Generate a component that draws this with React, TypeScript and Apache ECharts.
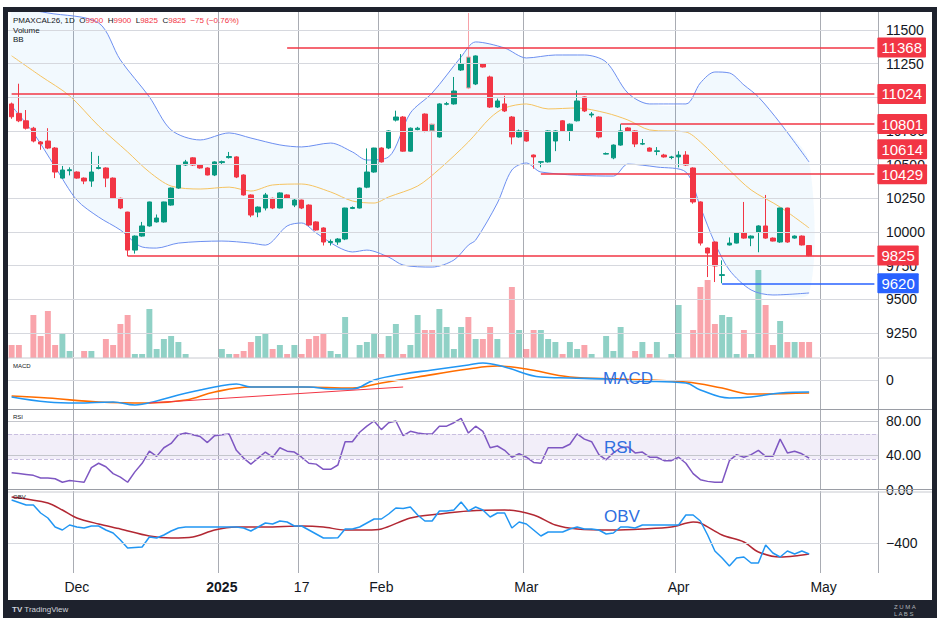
import { useEffect, useRef } from 'react';
import * as echarts from 'echarts';

const SLOTS = 120;
const DATE_LABELS: Record<number, string> = { 9: 'Dec', 29: '2025', 40: '17', 51: 'Feb', 71: 'Mar', 92: 'Apr', 112: 'May' };

// [open, close, low, high]
const CANDLES: number[][] = [
  [10950, 10855, 10840, 10960], [10880, 10825, 10815, 11100], [10825, 10770, 10760, 10905], [10770, 10675, 10665, 10780],
  [10668, 10653, 10610, 10675], [10675, 10623, 10615, 10770], [10623, 10445, 10400, 10630], [10400, 10460, 10395, 10490],
  [10455, 10462, 10420, 10480], [10445, 10400, 10395, 10450], [10400, 10378, 10355, 10405], [10378, 10445, 10335, 10594],
  [10472, 10478, 10465, 10565], [10475, 10400, 10333, 10480], [10400, 10250, 10245, 10405], [10250, 10178, 10170, 10255],
  [10148, 9866, 9822, 10150], [9866, 9970, 9840, 9975], [9970, 10045, 9965, 10075], [10045, 10223, 10040, 10225],
  [10075, 10104, 10070, 10130], [10075, 10223, 10070, 10225], [10200, 10326, 10195, 10330], [10326, 10497, 10320, 10500],
  [10497, 10520, 10490, 10535], [10550, 10497, 10490, 10555], [10497, 10475, 10470, 10500], [10475, 10423, 10420, 10480],
  [10423, 10520, 10415, 10525], [10515, 10522, 10505, 10530], [10552, 10560, 10545, 10594], [10557, 10408, 10400, 10562],
  [10423, 10275, 10270, 10428], [10275, 10126, 10110, 10280], [10148, 10185, 10110, 10190], [10178, 10275, 10160, 10290],
  [10250, 10178, 10170, 10255], [10178, 10290, 10175, 10295], [10275, 10250, 10245, 10280], [10200, 10237, 10185, 10245],
  [10237, 10178, 10170, 10240], [10200, 10052, 10045, 10205], [10075, 10015, 10010, 10080], [10030, 9926, 9900, 10035],
  [9922, 9930, 9900, 9945], [9926, 9948, 9905, 9955], [9948, 10178, 9940, 10180], [10175, 10182, 10170, 10190],
  [10178, 10326, 10175, 10330], [10333, 10445, 10325, 10620], [10445, 10623, 10440, 10625], [10623, 10520, 10515, 10628],
  [10623, 10750, 10615, 10755], [10830, 10853, 10820, 10900], [10853, 10600, 10595, 10860], [10600, 10770, 10595, 10775],
  [10760, 10770, 10755, 10780], [10875, 10750, 10740, 10880], [10800, 10750, 9777, 10805], [10705, 10950, 10700, 10955],
  [10948, 10952, 10940, 10965], [10950, 11046, 10945, 11150], [11202, 11247, 11195, 11320], [11298, 11068, 11060, 11625],
  [11098, 11306, 11090, 11310], [11247, 11224, 11220, 11250], [11150, 10927, 10920, 11160], [10927, 10972, 10920, 10990],
  [10950, 10898, 10890, 11010], [10853, 10705, 10650, 10860], [10705, 10750, 10700, 10760], [10750, 10675, 10670, 10755],
  [10571, 10557, 10470, 10575], [10518, 10522, 10480, 10525], [10520, 10750, 10515, 10755], [10675, 10750, 10600, 10755],
  [10825, 10750, 10745, 10830], [10750, 10800, 10675, 10805], [10825, 10972, 10820, 11050], [11002, 10898, 10890, 11005],
  [10868, 10875, 10850, 10890], [10853, 10705, 10695, 10858], [10578, 10582, 10575, 10590], [10550, 10645, 10540, 10650],
  [10645, 10750, 10640, 10800], [10772, 10750, 10745, 10778], [10750, 10653, 10630, 10755], [10652, 10656, 10645, 10690],
  [10623, 10600, 10598, 10628], [10598, 10602, 10570, 10630], [10571, 10557, 10552, 10580], [10553, 10557, 10540, 10565],
  [10557, 10571, 10480, 10600], [10571, 10497, 10490, 10600], [10475, 10223, 10210, 10480], [10223, 9918, 9900, 10228],
  [9881, 9844, 9666, 9885], [9926, 9748, 9629, 9930], [9678, 9684, 9620, 9790], [9904, 9918, 9900, 9960],
  [9918, 9993, 9915, 10000], [9993, 9955, 9950, 10223], [9955, 9970, 9895, 9975], [10000, 10045, 9850, 10050],
  [10045, 9955, 9950, 10275], [9955, 9933, 9930, 9960], [9926, 10178, 9920, 10180], [10178, 9926, 9920, 10180],
  [9955, 9970, 9950, 9975], [9970, 9904, 9900, 9975], [9900, 9825, 9820, 9900],
];
// candles whose long wicks show up pale in the reference
const PALE_WICKS = [58, 63];

const VOLUME = [
  13, 13, 0, 43, 22, 47, 13, 25, 7, 0, 7, 7, 0, 19, 13, 34, 43, 4, 4, 49,
  9, 19, 22, 16, 4, 0, 0, 0, 0, 9, 4, 4, 7, 16, 22, 25, 9, 13, 4, 13,
  4, 19, 22, 25, 7, 4, 41, 0, 13, 16, 25, 4, 22, 34, 4, 13, 43, 28, 28, 49,
  31, 9, 31, 41, 19, 19, 31, 19, 0, 71, 28, 9, 28, 28, 19, 16, 4, 16, 9, 13,
  4, 0, 22, 7, 31, 0, 7, 16, 4, 16, 0, 4, 53, 0, 28, 71, 78, 34, 43, 41,
  4, 28, 4, 88, 53, 13, 37, 16, 16, 16, 16,
];

const BB_UPPER = [[0, 11660], [2, 11650], [5, 11625], [12, 11551], [15, 11276], [19, 11002], [22, 10757], [26, 10683],
  [30, 10735], [33, 10697], [37, 10646], [40, 10631], [44, 10660], [47, 10594], [49, 10534], [52, 10557], [55, 10883],
  [58, 11031], [62, 11299], [64, 11410], [68, 11365], [71, 11291], [75, 11313], [79, 11313], [82, 11261], [85, 11031],
  [88, 10950], [93, 10950], [95, 11106], [97, 11187], [99, 11180], [101, 11091], [103, 11002], [106, 10809], [110, 10519]];
const BB_MIDDLE = [[0, 11307], [4, 11157], [8, 11010], [12, 10787], [16, 10594], [19, 10445], [22, 10341], [26, 10319],
  [30, 10333], [33, 10304], [36, 10349], [40, 10356], [44, 10297], [47, 10230], [50, 10215], [52, 10260], [56, 10341],
  [59, 10467], [63, 10668], [66, 10846], [68, 10920], [71, 10950], [74, 10913], [78, 10920], [82, 10883], [85, 10831],
  [88, 10757], [93, 10742], [95, 10668], [99, 10460], [102, 10312], [106, 10185], [110, 10030]];
const BB_LOWER = [[0, 10935], [3, 10735], [6, 10483], [9, 10237], [12, 10111], [15, 10015], [18, 9889], [20, 9881],
  [23, 9918], [29, 9933], [33, 9918], [35, 9903], [38, 10045], [40, 10067], [42, 9993], [45, 9889], [47, 9852],
  [49, 9866], [52, 9814], [54, 9755], [58, 9740], [61, 9792], [63, 9903], [64, 9940], [67, 10215], [69, 10460],
  [71, 10512], [73, 10445], [83, 10415], [85, 10504], [89, 10482], [93, 10445], [95, 10185], [97, 9918], [99, 9718],
  [102, 9570], [105, 9533], [110, 9548]];

const PRICE_TICKS = [9250, 9500, 9750, 10000, 10250, 10500, 10750, 11000, 11250, 11500];
// [start index, price, colour, line drawn]
const LEVELS: [number, number, string, boolean][] = [
  [38, 11368, '#f23645', true], [0, 11024, '#f23645', true], [84, 10801, '#f23645', true], [118, 10614, '#f23645', false],
  [73, 10429, '#f23645', true], [16, 9825, '#f23645', true], [98, 9620, '#2962ff', true],
];

const MACD = [[0, -17], [5, -22], [9, -23], [14, -22], [17, -25], [20, -21], [23, -15], [26, -10], [28, -7], [31, -4],
  [33, -7], [37, -7], [41, -7], [44, -9], [47, -9], [50, 0], [54, 6], [58, 10], [63, 15], [65, 17], [68, 13], [73, 3],
  [77, 2], [82, 1], [86, -1], [93, -3], [95, -10], [99, -18], [102, -17], [106, -13], [110, -12]];
const MACD_SIGNAL = [[0, -16], [5, -18], [12, -22], [19, -23], [24, -20], [28, -12], [33, -7], [40, -7], [47, -8],
  [51, -3], [56, 3], [63, 11], [67, 14], [71, 11], [77, 3], [84, 1], [93, -2], [98, -8], [102, -14], [110, -13]];
const MACD_TREND = [[19, -23], [54, -7]];

const RSI = [
  20, 19, 18, 17, 14, 14, 13, 9, 11, 10, 9, 26, 31, 27, 19, 15, 9, 21, 31, 45,
  39, 49, 54, 64, 66, 64, 62, 55, 63, 64, 65, 46, 37, 30, 37, 44, 38, 49, 45, 44,
  38, 31, 30, 24, 24, 29, 56, 56, 67, 74, 80, 70, 78, 80, 63, 68, 66, 65, 65, 74,
  74, 78, 83, 66, 74, 68, 49, 51, 46, 38, 42, 38, 32, 31, 49, 49, 49, 53, 65, 59,
  56, 41, 35, 43, 49, 50, 43, 44, 38, 38, 34, 34, 38, 31, 19, 12, 10, 9, 9, 34,
  41, 38, 41, 46, 39, 39, 59, 43, 45, 42, 37,
];

const OBV = [
  -56, -76, -96, -96, -160, -200, -272, -296, -256, -272, -280, -264, -264, -296, -320, -376, -440, -436, -432, -352,
  -360, -336, -304, -280, -272, -272, -272, -272, -272, -272, -272, -272, -280, -304, -272, -240, -248, -224, -232, -264,
  -264, -296, -328, -360, -360, -358, -288, -288, -272, -240, -208, -208, -168, -120, -124, -112, -176, -224, -224, -144,
  -144, -136, -72, -144, -112, -136, -192, -160, -160, -280, -232, -248, -296, -344, -312, -312, -312, -288, -272, -288,
  -288, -296, -328, -320, -272, -272, -280, -256, -256, -256, -256, -256, -256, -176, -176, -224, -336, -464, -520, -584,
  -520, -512, -560, -560, -416, -480, -512, -464, -488, -464, -488,
];
const OBV_MA = [[0, -32], [5, -80], [7, -136], [9, -200], [12, -248], [15, -288], [19, -344], [22, -360], [25, -352],
  [28, -296], [31, -272], [35, -272], [40, -264], [43, -272], [46, -296], [49, -296], [51, -288], [55, -200], [59, -168],
  [63, -144], [68, -136], [72, -176], [75, -256], [78, -288], [83, -296], [87, -288], [91, -272], [94, -232], [95, -240],
  [98, -336], [101, -392], [103, -472], [106, -512], [108, -504], [110, -488]];

const UP = '#089981';
const DOWN = '#f23645';
const GRID_H = '#d6d8de';
const GRID_V = '#a9acb3';
const FONT = 'Liberation Sans';

const CATS = Array.from({ length: SLOTS }, (_, i) => String(i));
const isDate = (i: number) => DATE_LABELS[i] !== undefined;

function hLines(values: number[], color = GRID_H, type: string = 'solid') {
  return values.map((v) => ({ yAxis: v, lineStyle: { color, width: 1, type }, label: { show: false } }));
}

export default function App() {
  const ref = useRef<HTMLDivElement>(null);

  useEffect(() => {
    if (!ref.current) return;
    document.body.style.margin = '0';
    const chart = echarts.init(ref.current, null, { renderer: 'svg' });

    const grids = [
      { left: 8, width: 870, top: 12, height: 345 },
      { left: 8, width: 870, top: 270, height: 88 },
      { left: 8, width: 870, top: 358, height: 51 },
      { left: 8, width: 870, top: 410, height: 80 },
      { left: 8, width: 870, top: 491, height: 82 },
    ];
    const xAxes = grids.map((_, gi) => ({
      type: 'category' as const,
      gridIndex: gi,
      data: CATS,
      boundaryGap: true,
      axisLine: { show: false },
      axisTick: { show: false },
      axisLabel: gi === 4 ? {
        show: true,
        interval: (i: number) => isDate(i),
        formatter: (v: string) => (DATE_LABELS[+v] === '2025' ? '{b|2025}' : DATE_LABELS[+v] ?? ''),
        color: '#131722', fontSize: 14, fontFamily: FONT, margin: 7,
        rich: { b: { fontWeight: 'bold', fontSize: 14, color: '#131722', fontFamily: FONT } },
      } : { show: false },
      splitLine: { show: gi !== 1, interval: (i: number) => isDate(i), lineStyle: { color: GRID_V, width: 1 } },
    }));
    const axisLabelBase = { color: '#131722', fontSize: 14, fontFamily: FONT, margin: 8 };
    const yAxes = [
      { type: 'value', gridIndex: 0, position: 'right', min: 9073, max: 11632, splitLine: { show: false },
        axisLine: { show: false }, axisTick: { show: false },
        axisLabel: { ...axisLabelBase, customValues: PRICE_TICKS, formatter: (v: number) => String(v) } },
      { type: 'value', gridIndex: 1, min: 0, max: 88, show: false, splitLine: { show: false } },
      { type: 'value', gridIndex: 2, position: 'right', min: -29, max: 22, splitLine: { show: false },
        axisLine: { show: false }, axisTick: { show: false }, axisLabel: { ...axisLabelBase, customValues: [0] } },
      { type: 'value', gridIndex: 3, position: 'right', min: 0, max: 92.75, splitLine: { show: false },
        axisLine: { show: false }, axisTick: { show: false },
        axisLabel: { ...axisLabelBase, customValues: [0, 40, 80], formatter: (v: number) => v.toFixed(2) } },
      { type: 'value', gridIndex: 4, position: 'right', min: -640, max: 16, splitLine: { show: false },
        axisLine: { show: false }, axisTick: { show: false },
        axisLabel: { ...axisLabelBase, customValues: [-400], formatter: (v: number) => String(v).replace('-', '−') } },
    ];

    const lineBase = { type: 'line' as const, showSymbol: false, smooth: 0.3, connectNulls: true, silent: true };

    const option = {
      animation: false,
      grid: grids,
      xAxis: xAxes,
      yAxis: yAxes,
      series: [
        {
          type: 'custom',
          xAxisIndex: 0, yAxisIndex: 0, z: 1, silent: true,
          data: [[0, 10000]],
          renderItem: (_p: unknown, api: any) => {
            const pts = [...BB_UPPER, ...[...BB_LOWER].reverse()].map((d) => api.coord(d));
            return { type: 'polygon', shape: { points: pts, smooth: 0.3 }, style: { fill: 'rgba(33,150,243,0.06)' } };
          },
          markLine: { silent: true, symbol: 'none', data: hLines(PRICE_TICKS) },
        },
        {
          type: 'bar', xAxisIndex: 1, yAxisIndex: 1, z: 2, barWidth: '82%', silent: true,
          data: VOLUME.map((v, i) => ({
            value: v,
            itemStyle: { color: CANDLES[i][1] >= CANDLES[i][0] ? 'rgba(8,153,129,0.45)' : 'rgba(242,54,69,0.45)' },
          })),
        },
        { ...lineBase, name: 'upper', data: BB_UPPER, lineStyle: { color: '#6d8ff0', width: 1 }, z: 3 },
        { ...lineBase, name: 'lower', data: BB_LOWER, lineStyle: { color: '#6d8ff0', width: 1 }, z: 3 },
        { ...lineBase, name: 'basis', data: BB_MIDDLE, lineStyle: { color: '#f5c361', width: 1 }, z: 3 },
        {
          type: 'candlestick', xAxisIndex: 0, yAxisIndex: 0, z: 4, barWidth: '72%', silent: true,
          data: CANDLES.map((c, i) => (PALE_WICKS.includes(i)
            ? { value: c, itemStyle: { color: UP, color0: DOWN, borderColor: '#f7a1a8', borderColor0: '#f7a1a8' } }
            : c)),
          itemStyle: { color: UP, color0: DOWN, borderColor: UP, borderColor0: DOWN, borderWidth: 1 },
          markLine: {
            silent: true, symbol: 'none',
            data: LEVELS.map(([s, v, c, drawn]) => [
              {
                coord: [s, v],
                lineStyle: { color: drawn ? c : 'rgba(0,0,0,0)', width: 1.6, type: 'solid' },
                label: {
                  show: true, position: 'end', distance: 3, formatter: String(v), color: '#fff',
                  backgroundColor: c, fontSize: 15, fontFamily: FONT, padding: [3, 4, 2, 4], borderRadius: 1,
                },
              },
              { coord: [119, v] },
            ]),
          },
        },
        {
          ...lineBase, smooth: 0.4, xAxisIndex: 2, yAxisIndex: 2, data: MACD, lineStyle: { color: '#2196f3', width: 1.6 }, z: 3,
          markLine: {
            silent: true, symbol: 'none',
            data: [
              ...hLines([0]),
              [{ coord: MACD_TREND[0], lineStyle: { color: '#f23645', width: 1, type: 'solid' }, label: { show: false } }, { coord: MACD_TREND[1] }],
            ],
          },
        },
        { ...lineBase, smooth: 0.4, xAxisIndex: 2, yAxisIndex: 2, data: MACD_SIGNAL, lineStyle: { color: '#ff6d00', width: 1.6 }, z: 2 },
        {
          type: 'line', showSymbol: false, silent: true, xAxisIndex: 3, yAxisIndex: 3, data: RSI,
          lineStyle: { color: '#7e57c2', width: 1.5 }, z: 3,
          markArea: { silent: true, itemStyle: { color: 'rgba(126,87,194,0.1)' }, data: [[{ yAxis: 36 }, { yAxis: 65 }]] },
          markLine: {
            silent: true, symbol: 'none',
            data: [...hLines([40, 80], '#c4c6cc'), ...hLines([36, 65], '#c9bfe0', 'dashed')],
          },
        },
        {
          type: 'line', showSymbol: false, silent: true, xAxisIndex: 4, yAxisIndex: 4, data: OBV,
          lineStyle: { color: '#2196f3', width: 1.5 }, z: 3,
          markLine: { silent: true, symbol: 'none', data: hLines([-400]) },
        },
        { ...lineBase, xAxisIndex: 4, yAxisIndex: 4, data: OBV_MA, lineStyle: { color: '#b22833', width: 1.5 }, z: 2 },
      ],
      graphic: [
        { type: 'line', z: 50, shape: { x1: 8, y1: 358, x2: 932, y2: 358 }, style: { stroke: '#c8cad0', lineWidth: 1 } },
        { type: 'line', z: 50, shape: { x1: 8, y1: 409.5, x2: 932, y2: 409.5 }, style: { stroke: '#9a9da5', lineWidth: 1 } },
        { type: 'line', z: 50, shape: { x1: 8, y1: 489.5, x2: 932, y2: 489.5 }, style: { stroke: '#9a9da5', lineWidth: 1 } },
        { type: 'line', z: 50, shape: { x1: 8, y1: 492, x2: 932, y2: 492 }, style: { stroke: '#c8cad0', lineWidth: 1 } },
        { type: 'rect', z: 100, shape: { x: 3, y: 7, width: 934, height: 5 }, style: { fill: '#1e222d' } },
        { type: 'rect', z: 100, shape: { x: 3, y: 7, width: 5, height: 611 }, style: { fill: '#1e222d' } },
        { type: 'rect', z: 100, shape: { x: 932, y: 7, width: 5, height: 611 }, style: { fill: '#1e222d' } },
        { type: 'rect', z: 100, shape: { x: 3, y: 600, width: 934, height: 18 }, style: { fill: '#1e222d' } },
        {
          type: 'text', z: 101, x: 12, y: 605,
          style: { text: '{t|TV} TradingView', fill: '#d1d4dc', fontSize: 8, fontFamily: FONT,
            rich: { t: { fontWeight: 'bold', fontSize: 8, fill: '#d1d4dc' } } },
        },
        { type: 'text', z: 101, x: 894, y: 604, style: { text: 'Z U M A', fill: '#b0b3b8', fontSize: 6, fontFamily: FONT } },
        { type: 'text', z: 101, x: 894, y: 611, style: { text: 'L A B S', fill: '#b0b3b8', fontSize: 6, fontFamily: FONT } },
        {
          type: 'text', z: 60, x: 13, y: 16,
          style: {
            text: '{n|PMAXCAL26, 1D}  {k|O}{r|9900}  {k|H}{r|9900}  {k|L}{r|9825}  {k|C}{r|9825}  {r|−75 (−0.76%)}',
            fontSize: 8, fontFamily: FONT,
            rich: { n: { fill: '#131722', fontSize: 8 }, k: { fill: '#131722', fontSize: 8 }, r: { fill: '#f23645', fontSize: 8 } },
          },
        },
        { type: 'text', z: 60, x: 13, y: 26, style: { text: 'Volume', fill: '#131722', fontSize: 8, fontFamily: FONT } },
        { type: 'text', z: 60, x: 13, y: 35, style: { text: 'BB', fill: '#131722', fontSize: 8, fontFamily: FONT } },
        { type: 'text', z: 60, x: 13, y: 363, style: { text: 'MACD', fill: '#131722', fontSize: 6, fontFamily: FONT } },
        { type: 'text', z: 60, x: 13, y: 414, style: { text: 'RSI', fill: '#131722', fontSize: 6, fontFamily: FONT } },
        { type: 'text', z: 60, x: 13, y: 494, style: { text: 'OBV', fill: '#131722', fontSize: 6, fontFamily: FONT } },
        { type: 'text', z: 60, x: 603, y: 370, style: { text: 'MACD', fill: '#2f6fe0', fontSize: 17, fontFamily: FONT } },
        { type: 'text', z: 60, x: 604, y: 439, style: { text: 'RSI', fill: '#2f6fe0', fontSize: 17, fontFamily: FONT } },
        { type: 'text', z: 60, x: 604, y: 508, style: { text: 'OBV', fill: '#2f6fe0', fontSize: 17, fontFamily: FONT } },
      ],
    };

    chart.setOption(option as echarts.EChartsOption);
    return () => chart.dispose();
  }, []);

  return <div ref={ref} style={{ position: 'absolute', left: 0, top: 0, width: 940, height: 627, background: '#fff' }} />;
}
